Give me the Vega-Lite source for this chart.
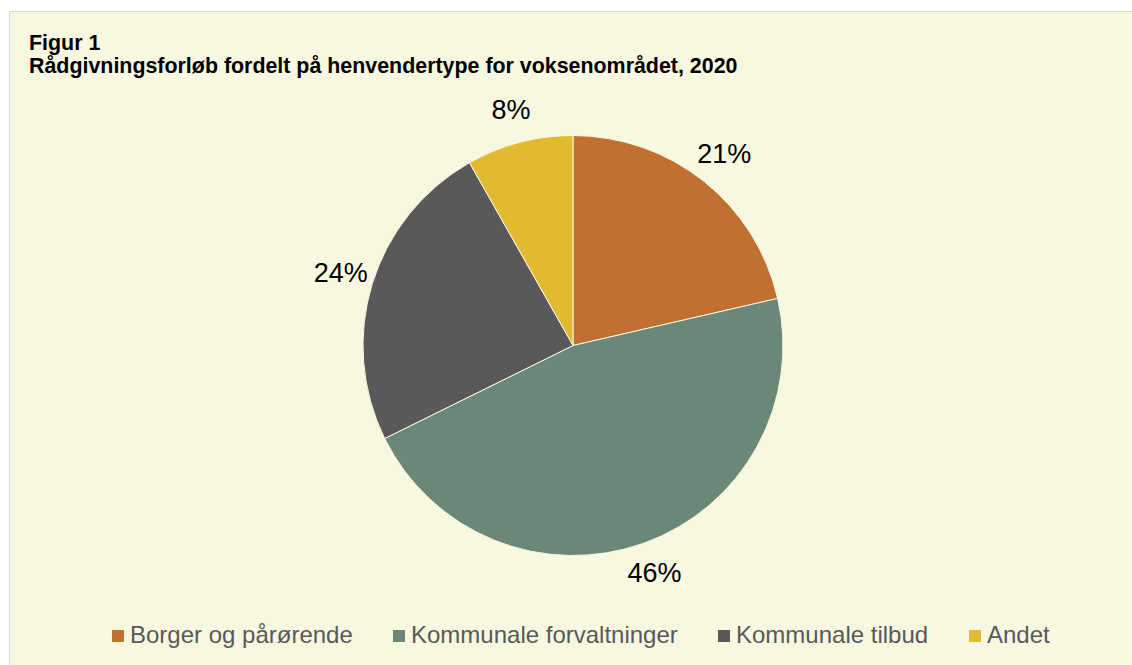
{
  "$schema": "https://vega.github.io/schema/vega-lite/v6.json",
  "width": 1123,
  "height": 654,
  "autosize": {"type": "none"},
  "padding": {"left": 9, "top": 11, "right": 0, "bottom": 0},
  "background": "white",
  "view": {"fill": "#F8F7E0", "stroke": "#D9D9D9", "strokeWidth": 1},
  "config": {
    "font": "Liberation Sans"
  },
  "title": {
    "text": ["Figur 1", "Rådgivningsforløb fordelt på henvendertype for voksenområdet, 2020"],
    "anchor": "start",
    "frame": "group",
    "dx": 20,
    "offset": -66,
    "fontSize": 21.4,
    "fontWeight": "bold",
    "color": "#000000",
    "lineHeight": 23,
    "font": "Liberation Sans"
  },
  "data": {
    "values": [
      {"i": 1, "category": "Borger og pårørende", "value": 21.4, "label": "21%"},
      {"i": 2, "category": "Kommunale forvaltninger", "value": 46.3, "label": "46%"},
      {"i": 3, "category": "Kommunale tilbud", "value": 24.1, "label": "24%"},
      {"i": 4, "category": "Andet", "value": 8.2, "label": "8%"}
    ]
  },
  "encoding": {
    "theta": {"field": "value", "type": "quantitative", "stack": true},
    "order": {"field": "i", "type": "quantitative"}
  },
  "layer": [
    {
      "mark": {"type": "arc", "outerRadius": 210, "stroke": "#F8F7E0", "strokeWidth": 1, "xOffset": 2.5, "yOffset": 7.5},
      "encoding": {
        "color": {
          "field": "category",
          "type": "nominal",
          "sort": ["Borger og pårørende", "Kommunale forvaltninger", "Kommunale tilbud", "Andet"],
          "scale": {
            "domain": ["Borger og pårørende", "Kommunale forvaltninger", "Kommunale tilbud", "Andet"],
            "range": ["#C07030", "#6B8778", "#595959", "#E2BA30"]
          },
          "legend": {
            "title": null,
            "orient": "none",
            "legendX": 97,
            "legendY": 613,
            "direction": "horizontal",
            "columns": 4,
            "symbolType": "square",
            "symbolSize": 144,
            "symbolStrokeWidth": 0,
            "labelFontSize": 24,
            "labelColor": "#595959",
            "labelFont": "Liberation Sans",
            "labelOffset": 0,
            "columnPadding": 34,
            "labelLimit": 400
          }
        }
      }
    },
    {
      "mark": {"type": "text", "radius": 243, "fontSize": 27, "color": "#000000", "align": "center", "baseline": "middle", "xOffset": 2.5, "yOffset": 7.5, "font": "Liberation Sans"},
      "encoding": {
        "text": {"field": "label", "type": "nominal"}
      }
    }
  ]
}
